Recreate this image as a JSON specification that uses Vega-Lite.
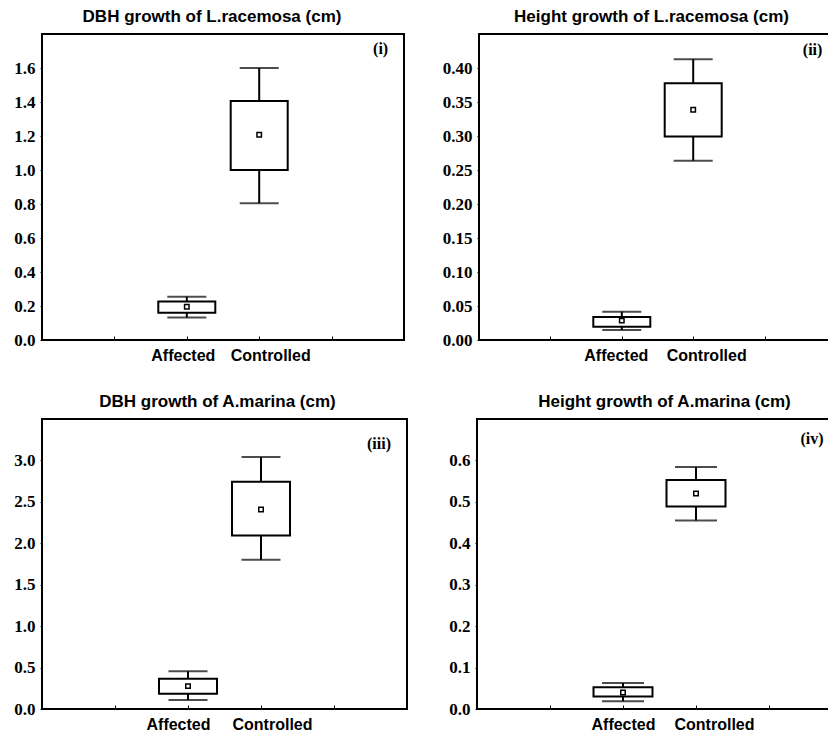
{
  "$schema": "https://vega.github.io/schema/vega-lite/v6.json",
  "padding": {"left": 10, "top": 7, "right": -14, "bottom": 0},
  "background": "white",
  "datasets": {
    "box": [
      {"panel": "p1", "group": "Affected", "wlo": 0.132, "q1": 0.161, "mean": 0.196, "q3": 0.226, "whi": 0.255},
      {"panel": "p1", "group": "Controlled", "wlo": 0.805, "q1": 1.0, "mean": 1.207, "q3": 1.406, "whi": 1.6},
      {"panel": "p2", "group": "Affected", "wlo": 0.0147, "q1": 0.0196, "mean": 0.0285, "q3": 0.0339, "whi": 0.0417},
      {"panel": "p2", "group": "Controlled", "wlo": 0.2636, "q1": 0.2994, "mean": 0.3387, "q3": 0.3774, "whi": 0.413},
      {"panel": "p3", "group": "Affected", "wlo": 0.11, "q1": 0.183, "mean": 0.276, "q3": 0.366, "whi": 0.455},
      {"panel": "p3", "group": "Controlled", "wlo": 1.8, "q1": 2.093, "mean": 2.407, "q3": 2.744, "whi": 3.04},
      {"panel": "p4", "group": "Affected", "wlo": 0.0187, "q1": 0.03, "mean": 0.0398, "q3": 0.0528, "whi": 0.0625},
      {"panel": "p4", "group": "Controlled", "wlo": 0.455, "q1": 0.489, "mean": 0.52, "q3": 0.553, "whi": 0.584}
    ],
    "tags": [
      {"panel": "p1", "tag": "(i)"},
      {"panel": "p2", "tag": "(ii)"},
      {"panel": "p3", "tag": "(iii)"},
      {"panel": "p4", "tag": "(iv)"}
    ]
  },
  "config": {
    "view": {"stroke": "black", "strokeWidth": 2},
    "axis": {"grid": false, "domain": false, "labelColor": "black", "tickColor": "black", "tickWidth": 1, "labelOverlap": false},
    "axisY": {"labelFont": "Liberation Serif", "labelFontSize": 17, "labelFontWeight": "bold", "tickSize": 2, "labelPadding": 5, "minExtent": 31, "maxExtent": 31},
    "axisX": {"labelFont": "Liberation Sans", "labelFontSize": 16, "labelFontWeight": "bold", "labelAngle": 0, "tickSize": -4, "labelPadding": 11, "minExtent": 24, "maxExtent": 24},
    "title": {"font": "Liberation Sans", "fontSize": 17, "fontWeight": "bold", "color": "black", "offset": 8, "baseline": "alphabetic", "anchor": "middle"}
  },
  "vconcat": [
    {
      "hconcat": [
        {
          "width": 362, "height": 306,
          "title": {"text": "DBH growth of L.racemosa (cm)", "dx": -11},
          "data": {"name": "box"},
          "transform": [{"filter": "datum.panel == 'p1'"}],
          "encoding": {
            "x": {"field": "group", "type": "nominal", "scale": {"type": "point", "domain": ["L", "Affected", "Controlled", "R"], "padding": 1},
                  "axis": {"title": null, "labelExpr": "(datum.value == 'Affected' || datum.value == 'Controlled') ? datum.value : ''", "labelOffset": {"condition": {"test": "datum.value == 'Affected'", "value": -4}, "value": 11}}}
          },
          "layer": [
            {"mark": {"type": "rule", "color": "black", "strokeWidth": 2},
             "encoding": {"y": {"field": "wlo", "type": "quantitative", "title": null, "scale": {"domain": [0, 1.8], "nice": false},
                                "axis": {"values": [0, 0.2, 0.4, 0.6, 0.8, 1.0, 1.2, 1.4, 1.6], "tickCount": 20, "format": ".1f", "labelOverlap": false}},
                          "y2": {"field": "whi"}}},
            {"mark": {"type": "bar", "width": 57, "fill": "white", "stroke": "black", "strokeWidth": 2},
             "encoding": {"y": {"field": "q1", "type": "quantitative", "title": null}, "y2": {"field": "q3"}}},
            {"mark": {"type": "tick", "color": "black", "size": 39, "thickness": 2},
             "encoding": {"y": {"field": "whi", "type": "quantitative", "title": null}}},
            {"mark": {"type": "tick", "color": "black", "size": 39, "thickness": 2},
             "encoding": {"y": {"field": "wlo", "type": "quantitative", "title": null}}},
            {"mark": {"type": "point", "shape": "square", "size": 20, "filled": false, "color": "black", "strokeWidth": 1.5, "opacity": 1},
             "encoding": {"y": {"field": "mean", "type": "quantitative", "title": null}}},
            {"data": {"name": "tags"}, "transform": [{"filter": "datum.panel == 'p1'"}],
             "mark": {"type": "text", "font": "Liberation Serif", "fontSize": 16, "fontWeight": "bold", "color": "black", "dx": 49},
             "encoding": {"x": {"datum": "R"}, "y": {"datum": 1.71}, "text": {"field": "tag"}}}
          ]
        },
        {
          "width": 357, "height": 306,
          "title": {"text": "Height growth of L.racemosa (cm)", "dx": -6},
          "data": {"name": "box"},
          "transform": [{"filter": "datum.panel == 'p2'"}],
          "encoding": {
            "x": {"field": "group", "type": "nominal", "scale": {"type": "point", "domain": ["L", "Affected", "Controlled", "R"], "padding": 1},
                  "axis": {"title": null, "labelExpr": "(datum.value == 'Affected' || datum.value == 'Controlled') ? datum.value : ''", "labelOffset": {"condition": {"test": "datum.value == 'Affected'", "value": -6}, "value": 13}}}
          },
          "layer": [
            {"mark": {"type": "rule", "color": "black", "strokeWidth": 2},
             "encoding": {"y": {"field": "wlo", "type": "quantitative", "title": null, "scale": {"domain": [0, 0.45], "nice": false},
                                "axis": {"values": [0, 0.05, 0.1, 0.15, 0.2, 0.25, 0.3, 0.35, 0.4], "tickCount": 20, "format": ".2f", "labelOverlap": false}},
                          "y2": {"field": "whi"}}},
            {"mark": {"type": "bar", "width": 57, "fill": "white", "stroke": "black", "strokeWidth": 2},
             "encoding": {"y": {"field": "q1", "type": "quantitative", "title": null}, "y2": {"field": "q3"}}},
            {"mark": {"type": "tick", "color": "black", "size": 39, "thickness": 2},
             "encoding": {"y": {"field": "whi", "type": "quantitative", "title": null}}},
            {"mark": {"type": "tick", "color": "black", "size": 39, "thickness": 2},
             "encoding": {"y": {"field": "wlo", "type": "quantitative", "title": null}}},
            {"mark": {"type": "point", "shape": "square", "size": 20, "filled": false, "color": "black", "strokeWidth": 1.5, "opacity": 1},
             "encoding": {"y": {"field": "mean", "type": "quantitative", "title": null}}},
            {"data": {"name": "tags"}, "transform": [{"filter": "datum.panel == 'p2'"}],
             "mark": {"type": "text", "font": "Liberation Serif", "fontSize": 16, "fontWeight": "bold", "color": "black", "dx": 48},
             "encoding": {"x": {"datum": "R"}, "y": {"datum": 0.427}, "text": {"field": "tag"}}}
          ]
        }
      ],
      "spacing": 36
    },
    {
      "hconcat": [
        {
          "width": 365, "height": 290,
          "title": {"text": "DBH growth of A.marina (cm)", "dx": -7},
          "data": {"name": "box"},
          "transform": [{"filter": "datum.panel == 'p3'"}],
          "encoding": {
            "x": {"field": "group", "type": "nominal", "scale": {"type": "point", "domain": ["L", "Affected", "Controlled", "R"], "padding": 1},
                  "axis": {"title": null, "labelExpr": "(datum.value == 'Affected' || datum.value == 'Controlled') ? datum.value : ''", "labelOffset": {"condition": {"test": "datum.value == 'Affected'", "value": -10}, "value": 11}}}
          },
          "layer": [
            {"mark": {"type": "rule", "color": "black", "strokeWidth": 2},
             "encoding": {"y": {"field": "wlo", "type": "quantitative", "title": null, "scale": {"domain": [0, 3.5], "nice": false},
                                "axis": {"values": [0, 0.5, 1.0, 1.5, 2.0, 2.5, 3.0], "tickCount": 20, "format": ".1f", "labelOverlap": false}},
                          "y2": {"field": "whi"}}},
            {"mark": {"type": "bar", "width": 58, "fill": "white", "stroke": "black", "strokeWidth": 2},
             "encoding": {"y": {"field": "q1", "type": "quantitative", "title": null}, "y2": {"field": "q3"}}},
            {"mark": {"type": "tick", "color": "black", "size": 39, "thickness": 2},
             "encoding": {"y": {"field": "whi", "type": "quantitative", "title": null}}},
            {"mark": {"type": "tick", "color": "black", "size": 39, "thickness": 2},
             "encoding": {"y": {"field": "wlo", "type": "quantitative", "title": null}}},
            {"mark": {"type": "point", "shape": "square", "size": 20, "filled": false, "color": "black", "strokeWidth": 1.5, "opacity": 1},
             "encoding": {"y": {"field": "mean", "type": "quantitative", "title": null}}},
            {"data": {"name": "tags"}, "transform": [{"filter": "datum.panel == 'p3'"}],
             "mark": {"type": "text", "font": "Liberation Serif", "fontSize": 16, "fontWeight": "bold", "color": "black", "dx": 45},
             "encoding": {"x": {"datum": "R"}, "y": {"datum": 3.2}, "text": {"field": "tag"}}}
          ]
        },
        {
          "width": 365, "height": 290,
          "title": {"text": "Height growth of A.marina (cm)", "dx": 5},
          "data": {"name": "box"},
          "transform": [{"filter": "datum.panel == 'p4'"}],
          "encoding": {
            "x": {"field": "group", "type": "nominal", "scale": {"type": "point", "domain": ["L", "Affected", "Controlled", "R"], "padding": 1},
                  "axis": {"title": null, "labelExpr": "(datum.value == 'Affected' || datum.value == 'Controlled') ? datum.value : ''", "labelOffset": {"condition": {"test": "datum.value == 'Affected'", "value": 0}, "value": 18}}}
          },
          "layer": [
            {"mark": {"type": "rule", "color": "black", "strokeWidth": 2},
             "encoding": {"y": {"field": "wlo", "type": "quantitative", "title": null, "scale": {"domain": [0, 0.7], "nice": false},
                                "axis": {"values": [0, 0.1, 0.2, 0.3, 0.4, 0.5, 0.6], "tickCount": 20, "format": ".1f", "labelOverlap": false}},
                          "y2": {"field": "whi"}}},
            {"mark": {"type": "bar", "width": 59, "fill": "white", "stroke": "black", "strokeWidth": 2},
             "encoding": {"y": {"field": "q1", "type": "quantitative", "title": null}, "y2": {"field": "q3"}}},
            {"mark": {"type": "tick", "color": "black", "size": 42, "thickness": 2},
             "encoding": {"y": {"field": "whi", "type": "quantitative", "title": null}}},
            {"mark": {"type": "tick", "color": "black", "size": 42, "thickness": 2},
             "encoding": {"y": {"field": "wlo", "type": "quantitative", "title": null}}},
            {"mark": {"type": "point", "shape": "square", "size": 20, "filled": false, "color": "black", "strokeWidth": 1.5, "opacity": 1},
             "encoding": {"y": {"field": "mean", "type": "quantitative", "title": null}}},
            {"data": {"name": "tags"}, "transform": [{"filter": "datum.panel == 'p4'"}],
             "mark": {"type": "text", "font": "Liberation Serif", "fontSize": 16, "fontWeight": "bold", "color": "black", "dx": 43},
             "encoding": {"x": {"datum": "R"}, "y": {"datum": 0.651}, "text": {"field": "tag"}}}
          ]
        }
      ],
      "spacing": 37
    }
  ],
  "spacing": 27
}
